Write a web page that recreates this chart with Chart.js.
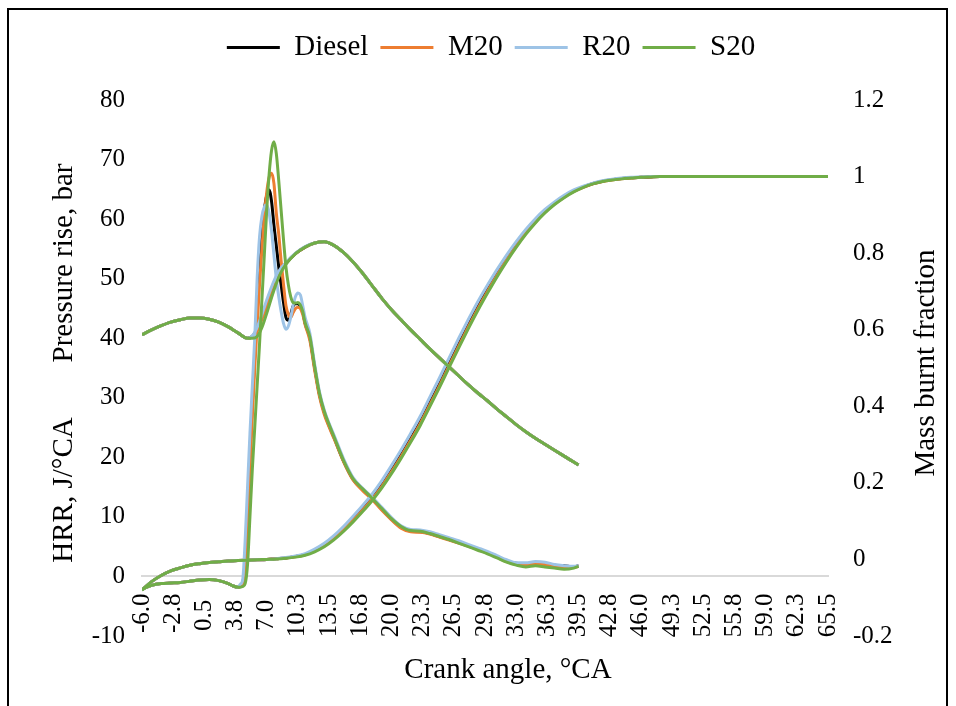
<!DOCTYPE html>
<html>
<head>
<meta charset="utf-8">
<script src="https://cdn.jsdelivr.net/npm/chart.js@4.4.1/dist/chart.umd.min.js"></script>
<style>
  html, body { margin: 0; padding: 0; background: #fff; }
  canvas { display: block; }
</style>
</head>
<body>
<canvas id="myChart" width="956" height="706"></canvas>
<script>
var fuels = ['Diesel', 'M20', 'R20', 'S20'];
var fuelColors = ['#000000', '#ED7D31', '#9DC3E6', '#70AD47'];

var xTickValues = [-6, -2.75, 0.5, 3.75, 7, 10.25, 13.5, 16.75, 20, 23.25, 26.5, 29.75, 33, 36.25, 39.5, 42.75, 46, 49.25, 52.5, 55.75, 59, 62.25, 65.5];
var xTickLabels = ['-6.0', '-2.8', '0.5', '3.8', '7.0', '10.3', '13.5', '16.8', '20.0', '23.3', '26.5', '29.8', '33.0', '36.3', '39.5', '42.8', '46.0', '49.3', '52.5', '55.8', '59.0', '62.3', '65.5'];
var leftTickValues = [-10, 0, 10, 20, 30, 40, 50, 60, 70, 80];
var leftTickLabels = ['-10', '0', '10', '20', '30', '40', '50', '60', '70', '80'];
var rightTickValues = [-0.2, 0, 0.2, 0.4, 0.6, 0.8, 1, 1.2];
var rightTickLabels = ['-0.2', '0', '0.2', '0.4', '0.6', '0.8', '1', '1.2'];

// heat release rate, J/°CA
var hrrAngles = [-6, -5.5, -5, -4, -3, -2, -1, 0, 1, 2, 3, 3.5, 4,
  4.25, 4.5, 4.75, 5, 5.25, 5.5, 5.75, 6, 6.25, 6.5, 6.75, 7, 7.25, 7.5, 7.75, 8,
  8.25, 8.5, 8.75, 9, 9.25, 9.5, 9.75, 10, 10.25, 10.5, 10.75, 11,
  11.5, 12, 12.5, 13, 13.5, 14,
  15, 16, 17, 18, 19, 20, 21, 22, 23, 24, 25, 26, 27, 28, 29, 30, 31, 32, 33, 34, 35, 36, 37, 38, 39, 39.5];
var hrrDiesel = [-2.2, -1.8, -1.5, -1.2, -1.1, -1.0, -0.8, -0.6, -0.5, -0.7, -1.2, -1.6, -1.8,
  -1.6, -1.0, 2, 11, 21, 29, 37, 45, 52, 57.5, 61.5, 64, 64.9, 63, 59, 55.5,
  52, 49, 46, 43.5, 43, 44, 45.4, 45.8, 45.8, 45.4, 44.5, 42.5,
  40, 35, 30.5, 27.5, 25.3, 23.4,
  19.4, 16.3, 14.6, 13.0, 11.3, 9.6, 8.3, 7.6, 7.5, 7.2, 6.7, 6.2, 5.7, 5.2, 4.6, 4.0, 3.3, 2.6, 2.2, 2.1, 2.3, 2.2, 1.9, 1.8, 1.6, 1.8];
var hrrM20 = [-2.2, -1.8, -1.5, -1.2, -1.1, -1.0, -0.8, -0.6, -0.5, -0.7, -1.2, -1.6, -1.8,
  -1.7, -1.4, 0.5, 8, 18, 27, 35, 42, 49, 55, 60.5, 64.5, 67, 67.7, 66, 61,
  57.5, 53, 49, 45.5, 44, 43.5, 44.3, 45, 45.2, 45, 44, 42.3,
  39.6, 34.6, 30.2, 27.2, 25.1, 23.2,
  19.3, 16.2, 14.4, 12.9, 11.1, 9.5, 8.1, 7.5, 7.4, 7.1, 6.6, 6.1, 5.6, 5.1, 4.5, 3.9, 3.2, 2.5, 2.0, 1.9, 2.1, 2.0, 1.8, 1.6, 1.5, 1.7];
var hrrR20 = [-2.2, -1.8, -1.5, -1.2, -1.1, -1.0, -0.8, -0.6, -0.5, -0.7, -1.2, -1.6, -1.8,
  -1.3, -0.5, 6, 15, 24, 32, 40, 50, 57, 60.5, 62, 62.4, 61, 58, 54, 50,
  47, 44.5, 42.5, 41.5, 42, 43.5, 45.5, 47, 47.6, 47.3, 45.5, 43.5,
  40.8, 35.6, 31, 27.9, 25.7, 23.8,
  19.8, 16.6, 14.8, 13.3, 11.6, 9.9, 8.5, 7.9, 7.8, 7.5, 7.0, 6.5, 6.0, 5.4, 4.8, 4.2, 3.5, 2.8, 2.3, 2.3, 2.5, 2.4, 2.0, 1.8, 1.7, 1.8];
var hrrS20 = [-2.2, -1.8, -1.5, -1.2, -1.1, -1.0, -0.8, -0.6, -0.5, -0.7, -1.2, -1.6, -1.8,
  -1.8, -1.7, -1.2, 2, 10, 18, 25, 32, 39, 46.5, 54, 61.5, 67.5, 71.5, 73, 71,
  66.5, 61.5, 56.5, 52, 49, 47, 46, 45.9, 46, 45.6, 44.5, 42.6,
  40.2, 35.2, 30.7, 27.7, 25.5, 23.5,
  19.5, 16.4, 14.7, 13.1, 11.4, 9.7, 8.4, 7.7, 7.6, 7.2, 6.7, 6.2, 5.6, 5.0, 4.4, 3.8, 3.1, 2.4, 1.9, 1.6, 1.8, 1.6, 1.4, 1.2, 1.4, 1.7];

// pressure rise, bar
var pressureAngles = [-6, -5, -4, -3, -2, -1, 0, 1, 2, 3, 4,
  5, 5.5, 6, 6.5, 7, 7.5, 8, 8.5, 9,
  10, 11, 12, 13, 14, 15, 16, 17, 18, 19, 20, 21, 22, 23, 24, 25, 26, 27, 28, 29,
  30, 31, 32, 33, 34, 35, 36, 37, 38, 39, 39.5];
var pressureDiesel = [40.6, 41.4, 42.1, 42.7, 43.1, 43.4, 43.4, 43.2, 42.7, 41.9, 40.9,
  40.0, 40.3, 41.5, 43.5, 45.8, 48.1, 50.2, 51.6, 52.6,
  54.2, 55.3, 56.0, 56.2, 55.6, 54.4, 52.8, 50.9, 48.8, 46.7, 44.8, 43.1, 41.4, 39.8, 38.2, 36.7, 35.2, 33.7, 32.2, 30.8,
  29.5, 28.1, 26.8, 25.5, 24.3, 23.2, 22.2, 21.2, 20.2, 19.2, 18.7];
var pressureM20 = [40.6, 41.4, 42.1, 42.7, 43.1, 43.4, 43.4, 43.2, 42.7, 41.9, 40.9,
  40.0, 40.2, 41.2, 43.2, 45.5, 47.9, 50.0, 51.5, 52.6,
  54.2, 55.3, 56.0, 56.2, 55.6, 54.4, 52.8, 50.9, 48.8, 46.7, 44.8, 43.1, 41.4, 39.8, 38.2, 36.7, 35.2, 33.7, 32.2, 30.8,
  29.5, 28.1, 26.8, 25.5, 24.3, 23.2, 22.2, 21.2, 20.2, 19.2, 18.7];
var pressureR20 = [40.6, 41.4, 42.1, 42.7, 43.1, 43.4, 43.4, 43.2, 42.7, 41.9, 40.9,
  40.0, 40.4, 41.8, 44.0, 46.4, 48.6, 50.5, 51.8, 52.7,
  54.3, 55.4, 56.0, 56.2, 55.6, 54.4, 52.8, 50.9, 48.8, 46.7, 44.8, 43.1, 41.4, 39.8, 38.2, 36.7, 35.2, 33.7, 32.2, 30.8,
  29.5, 28.1, 26.8, 25.5, 24.3, 23.2, 22.2, 21.2, 20.2, 19.2, 18.7];
var pressureS20 = [40.6, 41.4, 42.1, 42.7, 43.1, 43.4, 43.4, 43.2, 42.7, 41.9, 40.9,
  40.0, 40.0, 40.3, 41.8, 44.2, 46.8, 49.2, 51.1, 52.4,
  54.2, 55.3, 56.0, 56.2, 55.6, 54.4, 52.8, 50.9, 48.8, 46.7, 44.8, 43.1, 41.4, 39.8, 38.2, 36.7, 35.2, 33.7, 32.2, 30.8,
  29.5, 28.1, 26.8, 25.5, 24.3, 23.2, 22.2, 21.2, 20.2, 19.2, 18.7];

// mass burnt fraction
var mbfAngles = [-6, -5, -4, -3, -2, -1, 0, 1, 2, 3, 4, 5, 6, 7,
  8, 9, 10, 11, 12, 13, 14, 15, 16, 17, 18, 19, 20, 21, 22, 23, 24, 25, 26, 27, 28,
  29, 30, 31, 32, 33, 34, 35, 36, 37, 38, 39, 40, 41, 42, 43, 44, 45, 46, 47, 48,
  50, 52, 55, 58, 61, 64, 65.5];
var mbfDiesel = [-0.080, -0.058, -0.042, -0.030, -0.022, -0.015, -0.011, -0.008, -0.006, -0.004, -0.003, -0.002, -0.001, 0.000,
  0.002, 0.004, 0.008, 0.013, 0.024, 0.038, 0.057, 0.080, 0.106, 0.133, 0.162, 0.196, 0.234, 0.274, 0.316, 0.360, 0.410, 0.460, 0.512, 0.563, 0.613,
  0.661, 0.705, 0.747, 0.786, 0.822, 0.855, 0.884, 0.909, 0.930, 0.948, 0.962, 0.973, 0.982, 0.988, 0.992, 0.995, 0.997, 0.998, 0.999, 1.0,
  1.0, 1.0, 1.0, 1.0, 1.0, 1.0, 1.0];
var mbfM20 = [-0.080, -0.058, -0.042, -0.030, -0.022, -0.015, -0.011, -0.008, -0.006, -0.004, -0.003, -0.002, -0.001, 0.000,
  0.002, 0.004, 0.007, 0.012, 0.022, 0.036, 0.054, 0.077, 0.102, 0.129, 0.158, 0.191, 0.229, 0.269, 0.311, 0.355, 0.404, 0.454, 0.506, 0.557, 0.607,
  0.655, 0.700, 0.742, 0.782, 0.818, 0.852, 0.881, 0.907, 0.928, 0.946, 0.961, 0.972, 0.981, 0.987, 0.991, 0.994, 0.996, 0.998, 0.999, 1.0,
  1.0, 1.0, 1.0, 1.0, 1.0, 1.0, 1.0];
var mbfR20 = [-0.080, -0.058, -0.042, -0.030, -0.022, -0.015, -0.011, -0.008, -0.006, -0.004, -0.003, -0.002, -0.001, 0.000,
  0.002, 0.005, 0.009, 0.015, 0.027, 0.042, 0.062, 0.086, 0.113, 0.141, 0.171, 0.206, 0.245, 0.286, 0.329, 0.374, 0.424, 0.474, 0.526, 0.577, 0.626,
  0.673, 0.716, 0.757, 0.795, 0.830, 0.862, 0.890, 0.914, 0.934, 0.951, 0.965, 0.975, 0.983, 0.989, 0.993, 0.996, 0.998, 0.999, 1.0, 1.0,
  1.0, 1.0, 1.0, 1.0, 1.0, 1.0, 1.0];
var mbfS20 = [-0.080, -0.058, -0.042, -0.030, -0.022, -0.015, -0.011, -0.008, -0.006, -0.004, -0.003, -0.002, -0.001, 0.000,
  0.001, 0.003, 0.006, 0.011, 0.020, 0.033, 0.051, 0.073, 0.098, 0.125, 0.154, 0.187, 0.224, 0.264, 0.306, 0.350, 0.399, 0.449, 0.501, 0.552, 0.602,
  0.650, 0.695, 0.738, 0.778, 0.815, 0.849, 0.879, 0.905, 0.927, 0.945, 0.960, 0.972, 0.981, 0.987, 0.991, 0.994, 0.996, 0.998, 0.999, 1.0,
  1.0, 1.0, 1.0, 1.0, 1.0, 1.0, 1.0];

var hrrSeries = [hrrDiesel, hrrM20, hrrR20, hrrS20];
var pressureSeries = [pressureDiesel, pressureM20, pressureR20, pressureS20];
var mbfSeries = [mbfDiesel, mbfM20, mbfR20, mbfS20];

var serif = "'Liberation Serif', 'Times New Roman', serif";
Chart.defaults.font.family = serif;
Chart.defaults.color = '#000000';

function toPoints(angles, values) {
    var pts = [];
    for (var i = 0; i < angles.length; i++) {
        pts.push({x: angles[i], y: values[i]});
    }
    return pts;
}

function makeLine(label, color, order, axis, angles, values) {
    return {
        label: label,
        data: toPoints(angles, values),
        yAxisID: axis,
        borderColor: color,
        backgroundColor: color,
        borderWidth: 3,
        pointRadius: 0,
        fill: false,
        cubicInterpolationMode: 'monotone',
        order: order
    };
}

var datasets = [];
// HRR curves first: these carry the legend
for (var i = 0; i < fuels.length; i++) {
    datasets.push(makeLine(fuels[i], fuelColors[i], 4 - i, 'y', hrrAngles, hrrSeries[i]));
}
for (var i = 0; i < fuels.length; i++) {
    datasets.push(makeLine(fuels[i] + ' pressure', fuelColors[i], 4 - i, 'y', pressureAngles, pressureSeries[i]));
}
for (var i = 0; i < fuels.length; i++) {
    datasets.push(makeLine(fuels[i] + ' MBF', fuelColors[i], 4 - i, 'y2', mbfAngles, mbfSeries[i]));
}

// axis titles and the outer frame
var chartDecor = {
    id: 'chartDecor',
    afterDraw: function(chart) {
        var ctx = chart.ctx;
        ctx.save();
        ctx.fillStyle = '#000000';
        ctx.font = '29px ' + serif;
        ctx.textAlign = 'center';
        ctx.textBaseline = 'alphabetic';
        ctx.fillText('Crank angle, °CA', 508, 678);

        ctx.save();
        ctx.translate(72, 263);
        ctx.rotate(-Math.PI / 2);
        ctx.fillText('Pressure rise, bar', 0, 0);
        ctx.restore();

        ctx.save();
        ctx.translate(72, 490);
        ctx.rotate(-Math.PI / 2);
        ctx.fillText('HRR, J/°CA', 0, 0);
        ctx.restore();

        ctx.save();
        ctx.translate(934, 363);
        ctx.rotate(-Math.PI / 2);
        ctx.fillText('Mass burnt fraction', 0, 0);
        ctx.restore();

        ctx.strokeStyle = '#000000';
        ctx.lineWidth = 2;
        ctx.beginPath();
        ctx.moveTo(8, 706);
        ctx.lineTo(8, 9);
        ctx.lineTo(947, 9);
        ctx.lineTo(947, 706);
        ctx.stroke();
        ctx.restore();
    }
};

var ctx = document.getElementById('myChart');
var myChart = new Chart(ctx, {
    type: 'line',
    data: {datasets: datasets},
    options: {
        responsive: false,
        devicePixelRatio: 1,
        animation: false,
        layout: {padding: {top: 21, left: 26, right: 0, bottom: 0}},
        plugins: {
            tooltip: {enabled: false},
            legend: {
                position: 'top',
                align: 'center',
                labels: {
                    font: {size: 29, family: serif},
                    color: '#000000',
                    boxWidth: 53,
                    boxHeight: 3,
                    padding: 12,
                    filter: function(item) { return item.datasetIndex < 4; },
                    sort: function(a, b) { return a.datasetIndex - b.datasetIndex; },
                    generateLabels: function(chart) {
                        var items = Chart.defaults.plugins.legend.labels.generateLabels(chart);
                        items.forEach(function(it) {
                            it.fillStyle = it.strokeStyle;
                            it.lineWidth = 0;
                        });
                        return items;
                    }
                }
            },
            // empty box under the legend, keeps the gap above the plot
            subtitle: {
                display: true,
                text: '',
                position: 'top',
                weight: 500,
                font: {size: 10},
                padding: {top: 16, bottom: 0}
            }
        },
        scales: {
            x: {
                type: 'linear',
                position: {y: 0},
                min: -6,
                max: 65.5,
                afterBuildTicks: function(scale) {
                    scale.ticks = xTickValues.map(function(v) { return {value: v}; });
                },
                ticks: {
                    autoSkip: false,
                    minRotation: 90,
                    maxRotation: 90,
                    padding: 17,
                    font: {size: 25},
                    color: '#000000',
                    callback: function(value, index) {
                        var label = xTickLabels[index];
                        return label.length < 4 ? label + ' ' : label;
                    }
                },
                grid: {display: false, drawTicks: false},
                border: {display: true, color: '#D9D9D9', width: 2}
            },
            y: {
                position: 'left',
                min: -10,
                max: 80,
                afterBuildTicks: function(scale) {
                    scale.ticks = leftTickValues.map(function(v) { return {value: v}; });
                },
                afterFit: function(scale) {
                    scale.width = 116;
                    scale.paddingTop = 100;
                    scale.paddingBottom = 70;
                },
                ticks: {
                    padding: 17,
                    font: {size: 25},
                    color: '#000000',
                    callback: function(value, index) { return leftTickLabels[index]; }
                },
                grid: {display: false, drawTicks: false},
                border: {display: false}
            },
            y2: {
                position: 'right',
                min: -0.2,
                max: 1.2,
                afterBuildTicks: function(scale) {
                    scale.ticks = rightTickValues.map(function(v) { return {value: v}; });
                },
                afterFit: function(scale) {
                    scale.width = 128;
                    scale.paddingTop = 100;
                    scale.paddingBottom = 70;
                },
                ticks: {
                    padding: 25,
                    font: {size: 25},
                    color: '#000000',
                    callback: function(value, index) { return rightTickLabels[index]; }
                },
                grid: {display: false, drawTicks: false},
                border: {display: false}
            }
        }
    },
    plugins: [chartDecor]
});
</script>
</body>
</html>
